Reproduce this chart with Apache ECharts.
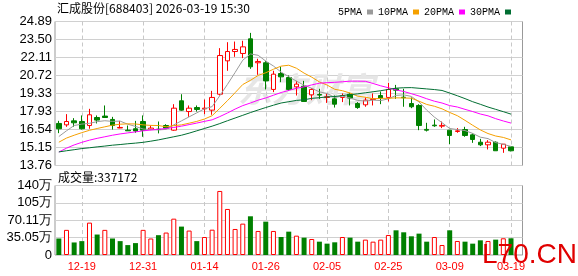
<!DOCTYPE html>
<html>
<head>
<meta charset="utf-8">
<style>
  html, body { margin: 0; padding: 0; background: #fff; }
  #chart { width: 578px; height: 276px; }
</style>
<script src="https://cdn.jsdelivr.net/npm/echarts@6/dist/echarts.min.js"></script>
</head>
<body>
<div id="chart"></div>
<script>
// 日期
var dates = ['12-16','12-17','12-18','12-19','12-22','12-23','12-24','12-25','12-26','12-29','12-30','12-31',
  '01-05','01-06','01-07','01-08','01-09','01-12','01-13','01-14','01-15','01-16','01-19','01-20','01-21','01-22','01-23','01-26','01-27','01-28','01-29','01-30',
  '02-02','02-03','02-04','02-05','02-06','02-09','02-10','02-11','02-12','02-13','02-24','02-25','02-26','02-27',
  '03-02','03-03','03-04','03-05','03-06','03-09','03-10','03-11','03-12','03-13','03-16','03-17','03-18','03-19'];
var labelDates = ['12-19','12-31','01-14','01-26','02-05','02-25','03-09','03-19'];

// K线 开 收 低 高
var opens  = [17.01,16.90,17.21,17.16,16.85,17.47,17.58,17.32,16.66,16.49,16.60,17.16,16.54,16.57,16.85,16.49,18.76,17.93,18.24,18.14,
  18.04,19.27,21.85,22.57,22.42,23.55,21.70,21.70,19.64,20.87,20.56,19.84,19.89,19.22,19.25,19.02,18.91,19.02,19.27,18.55,
  18.45,18.86,19.17,19.02,19.69,19.04,18.55,18.40,16.55,16.88,16.80,16.49,16.39,16.54,16.13,15.56,15.36,15.56,15.10,15.20];
var closes = [16.60,17.16,17.06,16.60,17.68,17.27,17.47,16.85,16.70,16.44,16.43,16.49,16.65,16.54,16.65,18.19,18.04,18.19,18.09,18.19,
  19.02,22.26,22.57,22.73,22.93,21.39,21.80,20.30,20.82,20.61,19.64,20.05,18.71,19.64,19.20,19.07,18.50,19.17,18.97,18.24,
  18.81,18.91,18.97,19.64,19.58,19.00,18.30,16.85,16.49,16.83,16.86,16.08,16.44,16.08,15.77,15.36,15.56,14.90,15.41,14.90];
var lows   = [16.26,16.75,16.75,16.54,16.60,17.01,17.47,16.54,16.64,16.44,16.29,15.98,16.49,16.24,16.60,16.44,17.99,17.52,17.93,17.73,
  17.68,19.17,21.08,22.16,22.06,21.23,20.77,19.64,19.43,20.20,19.53,19.17,18.71,18.81,18.91,18.60,18.24,18.66,18.40,18.14,
  18.30,18.40,18.50,18.71,18.91,18.30,18.19,16.49,16.39,16.75,16.65,15.41,16.29,15.98,15.51,15.26,15.00,14.90,14.74,14.85];
var highs  = [17.21,17.73,17.42,17.63,18.14,17.63,18.40,17.52,17.21,16.85,17.21,17.63,16.85,17.16,16.95,18.50,19.27,18.40,18.40,18.86,
  19.53,22.83,23.29,23.34,23.40,24.01,22.01,21.85,21.08,21.39,20.72,20.30,20.30,19.74,19.69,19.33,19.17,19.33,19.38,18.66,
  19.02,19.33,19.48,20.15,19.99,19.69,19.02,18.50,17.06,17.32,17.16,16.49,16.65,16.75,16.24,15.82,15.72,15.62,15.41,15.26];
var prevClose = 16.95;

// 均线
var ma5  = [16.00,16.44,16.85,16.96,17.02,17.15,17.22,17.17,17.19,16.95,16.78,16.58,16.54,16.51,16.55,16.90,17.21,17.52,17.83,18.14,
  18.31,19.15,20.03,20.95,21.90,22.38,22.28,21.83,21.45,20.98,20.63,20.28,19.97,19.73,19.45,19.33,19.02,19.12,18.98,18.79,
  18.74,18.82,18.78,18.91,19.18,19.22,19.10,18.67,18.04,17.50,17.07,16.62,16.54,16.46,16.24,15.95,15.84,15.53,15.40,15.23];
var ma10 = [15.56,15.88,16.10,16.30,16.48,16.62,16.75,16.88,16.95,16.98,16.97,16.90,16.86,16.85,16.75,16.84,16.90,17.03,17.17,17.35,
  17.61,18.18,18.77,19.39,20.02,20.34,20.72,20.93,21.20,21.44,21.51,21.28,20.90,20.59,20.22,19.98,19.65,19.54,19.36,19.12,
  19.04,18.92,18.95,18.95,18.99,18.98,18.96,18.73,18.48,18.34,18.14,17.86,17.61,17.25,16.87,16.51,16.23,16.04,15.93,15.74];
var ma20 = [14.80,15.10,15.35,15.55,15.72,15.86,15.98,16.10,16.20,16.28,16.36,16.44,16.50,16.56,16.62,16.70,16.80,16.92,17.04,17.17,
  17.29,17.54,17.82,18.12,18.39,18.59,18.81,18.98,19.19,19.40,19.56,19.73,19.84,19.99,20.12,20.16,20.19,20.23,20.28,20.28,
  20.27,20.10,19.92,19.77,19.60,19.48,19.31,19.13,18.92,18.73,18.59,18.39,18.28,18.10,17.93,17.74,17.60,17.38,17.20,17.04];
var ma30 = [14.81,14.90,14.98,15.07,15.13,15.20,15.26,15.33,15.38,15.44,15.49,15.55,15.64,15.74,15.86,15.98,16.10,16.26,16.44,16.62,
  16.80,17.00,17.22,17.43,17.64,17.85,18.05,18.24,18.42,18.59,18.69,18.79,18.84,18.95,19.00,19.06,19.09,19.17,19.24,19.30,
  19.38,19.46,19.54,19.64,19.74,19.77,19.78,19.73,19.68,19.63,19.56,19.36,19.15,18.93,18.69,18.49,18.28,18.10,17.92,17.73];

// 成交量 (万)
var volumes = [33.3,50.7,25.3,28.0,65.3,41.3,50.7,33.3,28.0,20.0,24.0,50.7,33.3,40.0,45.3,73.3,57.3,49.3,28.0,36.3,
  51.1,129.2,92.9,52.5,63.3,78.1,48.5,67.3,48.5,36.3,47.1,39.0,35.0,32.3,26.9,22.9,25.6,36.3,35.0,26.9,
  31.0,26.9,31.0,40.4,49.8,45.8,37.7,43.1,26.9,36.3,20.2,49.8,28.3,26.9,22.9,29.6,28.3,31.0,33.7,33.72];

var priceTicks = ['13.76','15.15','16.54','17.93','19.33','20.72','22.11','23.50','24.89'];
var volTicks = ['0','35.05万','70.11万','105万','140万'];

var RED = '#ff0000', GREEN = '#008000';
var chart = echarts.init(document.getElementById('chart'));

var cats = dates.concat(['']);
var kData = opens.map(function (o, i) { return [o, closes[i], lows[i], highs[i]]; });
var volData = volumes.map(function (v, i) {
  var prev = i === 0 ? prevClose : closes[i - 1];
  var up = closes[i] > prev;
  return {
    value: v,
    itemStyle: up ? { color: '#fff', borderColor: RED, borderWidth: 1 } : { color: GREEN }
  };
});
var vLines = labelDates.map(function (d) { return { xAxis: d }; });
var dashLine = {
  silent: true, symbol: 'none', z: 1, animation: false,
  label: { show: false },
  lineStyle: { color: '#c8c8c8', type: [4, 3], width: 1 },
  data: vLines
};
var labelFont = { fontFamily: 'Liberation Sans', fontSize: 13, color: '#000' };

function maSeries(name, data, color) {
  return {
    name: name, type: 'line', data: data, xAxisIndex: 0, yAxisIndex: 0,
    showSymbol: false, symbol: 'none', color: color, z: 3,
    lineStyle: { width: 1, color: color }
  };
}

chart.setOption({
  animation: false,
  grid: [
    { left: 55, top: 21.5, width: 467.5, height: 144, show: true, borderColor: '#999', borderWidth: 1 },
    { left: 55, top: 185.5, width: 467.5, height: 69.5, show: true, borderColor: '#999', borderWidth: 1 }
  ],
  legend: {
    data: ['5PMA', '10PMA', '20PMA', '30PMA'],
    left: 333, top: 2, align: 'right', icon: 'rect',
    itemWidth: 6, itemHeight: 5, itemGap: 5,
    textStyle: { fontFamily: 'Liberation Mono', fontSize: 10, color: '#000' }
  },
  xAxis: [
    { type: 'category', gridIndex: 0, data: cats, boundaryGap: true,
      axisLine: { show: false }, axisTick: { show: false }, axisLabel: { show: false }, splitLine: { show: false } },
    { type: 'category', gridIndex: 1, data: cats, boundaryGap: true,
      axisLine: { show: false }, axisTick: { show: false }, splitLine: { show: false },
      axisLabel: {
        margin: 6, color: RED, fontFamily: 'Liberation Sans', fontSize: 11,
        interval: function (idx, val) { return labelDates.indexOf(val) >= 0; }
      } }
  ],
  yAxis: [
    { type: 'value', gridIndex: 0, position: 'left', min: 13.76, max: 24.89, show: false },
    { type: 'value', gridIndex: 0, position: 'left', min: 0, max: 8, interval: 1,
      axisLine: { show: false }, axisTick: { show: false },
      axisLabel: Object.assign({ margin: 3, formatter: function (v) { return priceTicks[v]; } }, labelFont),
      splitLine: { lineStyle: { color: '#d0d0d0', width: 1 } } },
    { type: 'value', gridIndex: 1, position: 'left', min: 0, max: 140.22, interval: 35.055,
      axisLine: { show: false }, axisTick: { show: false },
      axisLabel: Object.assign({ margin: 3, formatter: function (v) { return volTicks[Math.round(v / 35.055)]; } }, labelFont),
      splitLine: { lineStyle: { color: '#d0d0d0', width: 1 } } }
  ],
  series: [
    {
      type: 'candlestick', xAxisIndex: 0, yAxisIndex: 0, data: kData, barWidth: 5, z: 2,
      itemStyle: { color: '#fff', color0: GREEN, borderColor: RED, borderColor0: GREEN, borderWidth: 1 },
      markLine: dashLine
    },
    maSeries('5PMA', ma5, '#9a9a9a'),
    maSeries('10PMA', ma10, '#f5a000'),
    maSeries('20PMA', ma20, '#ff00ff'),
    maSeries('30PMA', ma30, '#006e32'),
    {
      type: 'bar', xAxisIndex: 1, yAxisIndex: 2, data: volData, barWidth: 5, z: 2,
      markLine: dashLine
    }
  ],
  graphic: [
    { type: 'text', left: 238, top: 72, z: 1, silent: true,
      style: { text: '东方财富', fill: '#e6e6e6', font: 'italic bold 34px "Noto Sans CJK SC"' } },
    { type: 'text', left: 57, top: 2, z: 10,
      style: { text: '汇成股份[688403] 2026-03-19 15:30', fill: '#000', font: '12px "Noto Sans CJK SC"' } },
    { type: 'text', left: 58, top: 171, z: 10,
      style: { text: '成交量:337172', fill: '#000', font: '12px "Noto Sans CJK SC"' } },
    { type: 'text', left: 482, top: 241, z: 100,
      style: { text: 'L70.CN', fill: '#e00000', font: '28px "Liberation Sans"' } }
  ]
});
</script>
</body>
</html>
